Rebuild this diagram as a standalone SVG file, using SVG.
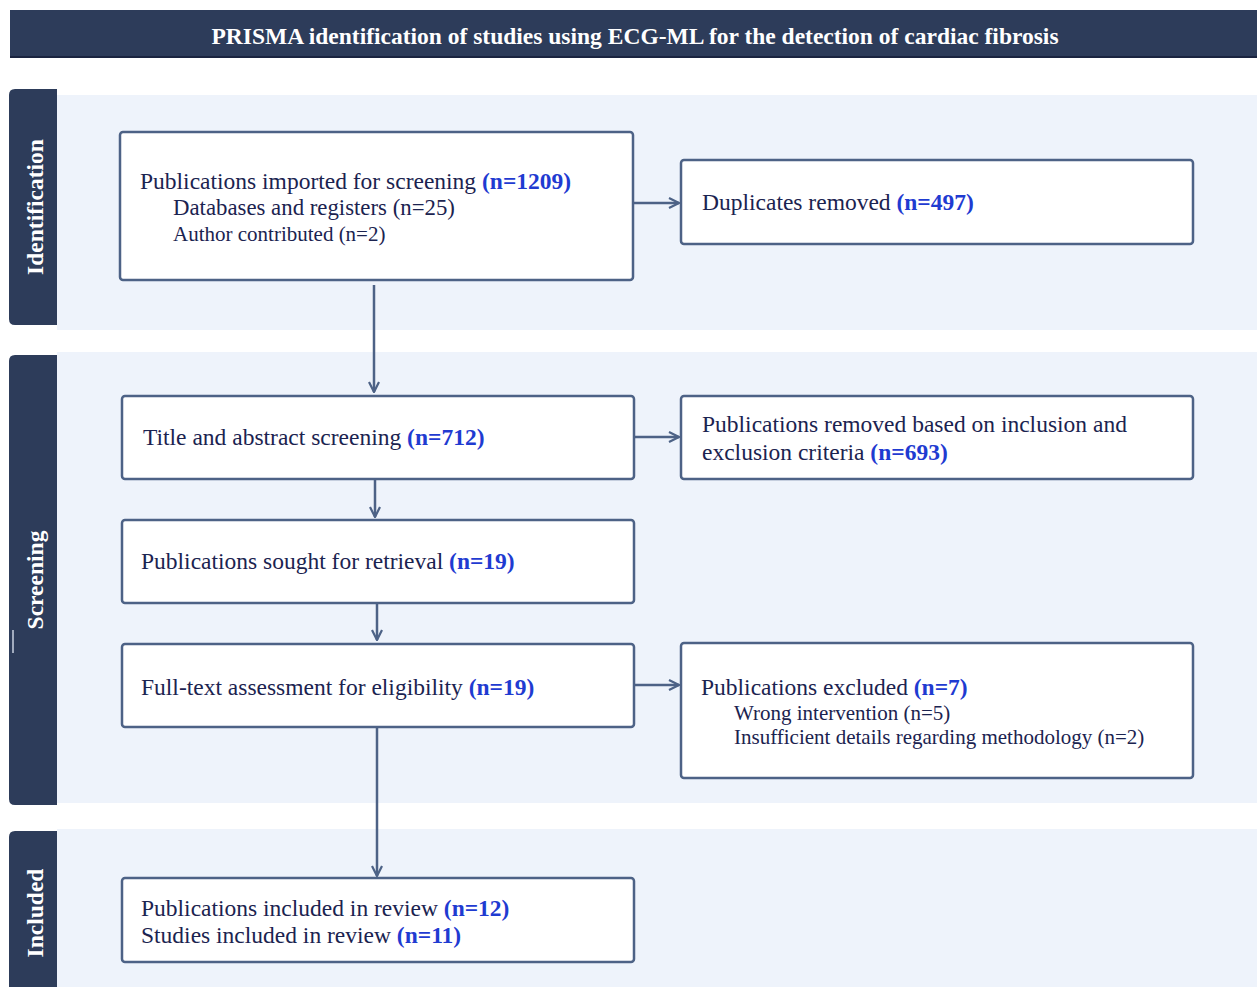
<svg xmlns="http://www.w3.org/2000/svg" width="1257" height="987" viewBox="0 0 1257 987">
<defs>
<style>
.band{fill:#eef3fb}
.side{fill:#2d3c5a}
.box{fill:#ffffff;stroke:#4d6286;stroke-width:2.5}
.t{font-family:"Liberation Serif","Times New Roman",serif;font-size:23.5px;fill:#1b2350}
.s{font-family:"Liberation Serif","Times New Roman",serif;font-size:21px;fill:#1b2350}
.n{font-weight:bold;fill:#1f3bd1}
.lab{font-family:"Liberation Serif","Times New Roman",serif;font-size:23.5px;font-weight:bold;fill:#ffffff}
.con{stroke:#4d6286;stroke-width:2.5;fill:none}
</style>
<marker id="arr" viewBox="0 0 12 12" refX="11" refY="6" markerWidth="12" markerHeight="12" markerUnits="userSpaceOnUse" orient="auto">
<path d="M1,1 L11,6 L1,11" fill="none" stroke="#4d6286" stroke-width="2.2"/>
</marker>
</defs>
<rect width="1257" height="987" fill="#ffffff"/>
<g id="title">
<rect x="10" y="10" width="1260" height="48" fill="#2d3c5a"/>
<rect x="10" y="56" width="1260" height="2" fill="#1a2440"/>
<text x="635" y="44" text-anchor="middle" class="lab">PRISMA identification of studies using ECG-ML for the detection of cardiac fibrosis</text>
</g>
<g id="bands">
<rect class="band" x="57" y="95" width="1200" height="235"/>
<rect class="band" x="57" y="352" width="1200" height="451"/>
<rect class="band" x="57" y="829" width="1200" height="158"/>
</g>
<g id="lane-identification">
<path class="side" d="M15,89 H57 V325 H15 Q9,325 9,319 V95 Q9,89 15,89 Z"/>
<text class="lab" transform="translate(43,207) rotate(-90)" text-anchor="middle">Identification</text>
</g>
<g id="lane-screening">
<path class="side" d="M15,355 H57 V805 H15 Q9,805 9,799 V361 Q9,355 15,355 Z"/>
<text class="lab" transform="translate(43,580) rotate(-90)" text-anchor="middle">Screening</text>
<line x1="13" y1="630" x2="13" y2="653" stroke="#c8d0e0" stroke-width="1.5"/>
</g>
<g id="lane-included">
<path class="side" d="M15,831 H57 V987 H9 V837 Q9,831 15,831 Z"/>
<text class="lab" transform="translate(43,913) rotate(-90)" text-anchor="middle">Included</text>
</g>
<g id="connectors">
<line class="con" x1="374" y1="285" x2="374" y2="392" marker-end="url(#arr)"/>
<line class="con" x1="634" y1="203" x2="679" y2="203" marker-end="url(#arr)"/>
<line class="con" x1="375" y1="480" x2="375" y2="517" marker-end="url(#arr)"/>
<line class="con" x1="635" y1="437" x2="679" y2="437" marker-end="url(#arr)"/>
<line class="con" x1="377" y1="604" x2="377" y2="640" marker-end="url(#arr)"/>
<line class="con" x1="635" y1="685" x2="679" y2="685" marker-end="url(#arr)"/>
<line class="con" x1="377" y1="728" x2="377" y2="876" marker-end="url(#arr)"/>
</g>
<g id="node-imported">
<rect class="box" x="120" y="132" width="513" height="148" rx="3"/>
<text class="t" x="140" y="189">Publications imported for screening <tspan class="n">(n=1209)</tspan></text>
<text class="s" x="173" y="215" style="font-size:22.8px">Databases and registers (n=25)</text>
<text class="s" x="173" y="241">Author contributed (n=2)</text>
</g>
<g id="node-duplicates">
<rect class="box" x="681" y="160" width="512" height="84" rx="3"/>
<text class="t" x="702" y="210">Duplicates removed <tspan class="n">(n=497)</tspan></text>
</g>
<g id="node-title-abstract">
<rect class="box" x="122" y="396" width="512" height="83" rx="3"/>
<text class="t" x="143" y="445">Title and abstract screening <tspan class="n">(n=712)</tspan></text>
</g>
<g id="node-removed">
<rect class="box" x="681" y="396" width="512" height="83" rx="3"/>
<text class="t" x="702" y="432">Publications removed based on inclusion and</text>
<text class="t" x="702" y="460">exclusion criteria <tspan class="n">(n=693)</tspan></text>
</g>
<g id="node-retrieval">
<rect class="box" x="122" y="520" width="512" height="83" rx="3"/>
<text class="t" x="141" y="569">Publications sought for retrieval <tspan class="n">(n=19)</tspan></text>
</g>
<g id="node-fulltext">
<rect class="box" x="122" y="644" width="512" height="83" rx="3"/>
<text class="t" x="141" y="695">Full-text assessment for eligibility <tspan class="n">(n=19)</tspan></text>
</g>
<g id="node-excluded">
<rect class="box" x="681" y="643" width="512" height="135" rx="3"/>
<text class="t" x="701" y="695">Publications excluded <tspan class="n">(n=7)</tspan></text>
<text class="s" x="734" y="720">Wrong intervention (n=5)</text>
<text class="s" x="734" y="744">Insufficient details regarding methodology (n=2)</text>
</g>
<g id="node-included">
<rect class="box" x="122" y="878" width="512" height="84" rx="3"/>
<text class="t" x="141" y="916">Publications included in review <tspan class="n">(n=12)</tspan></text>
<text class="t" x="141" y="943">Studies included in review <tspan class="n">(n=11)</tspan></text>
</g>
</svg>
